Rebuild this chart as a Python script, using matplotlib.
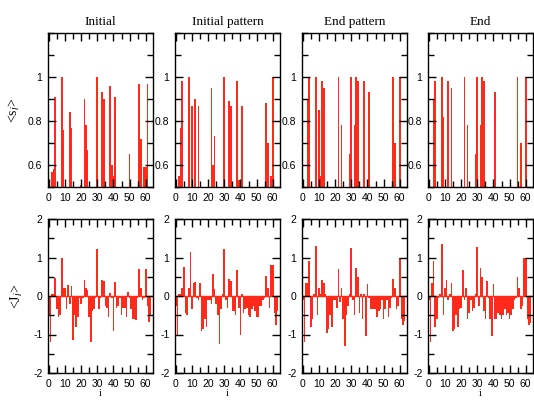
import matplotlib
matplotlib.use("Agg")
import matplotlib.pyplot as plt
from matplotlib.ticker import MultipleLocator, FuncFormatter

titles = ["Initial", "Initial pattern", "End pattern", "End"]

# site index
sites = list(range(64))

# mean activity <s_i> per site (top row); values under 0.5 lie below the visible window
s_initial = [0.3, 0.3, 0.57, 0.58, 0.91, 0.3, 0.3, 0.3, 1.0, 0.76, 0.3, 0.3, 0.3, 0.84, 0.77, 0.3,
             0.3, 0.3, 0.3, 0.3, 0.51, 0.3, 0.90, 0.78, 0.67, 0.3, 0.3, 0.3, 0.3, 0.3, 1.0, 0.3,
             0.3, 0.93, 0.90, 0.3, 0.3, 0.3, 0.96, 0.60, 0.55, 0.91, 0.3, 0.3, 0.3, 0.3, 0.3, 0.3,
             0.3, 0.3, 0.65, 0.3, 0.3, 0.3, 0.3, 0.3, 0.97, 0.72, 0.3, 0.59, 0.59, 0.97, 0.3, 0.3]
s_init_pat = [0.3, 0.3, 0.55, 0.77, 0.98, 0.3, 0.3, 0.3, 1.0, 0.3, 0.87, 0.3, 0.90, 0.3, 0.87, 0.3,
              0.3, 0.3, 0.3, 0.3, 0.3, 0.3, 0.95, 0.60, 0.73, 0.3, 0.3, 0.3, 0.3, 0.3, 1.0, 0.3,
              0.3, 0.89, 0.87, 0.3, 0.3, 0.3, 0.98, 0.53, 0.53, 0.87, 0.3, 0.3, 0.3, 0.3, 0.3, 0.3,
              0.3, 0.3, 0.3, 0.3, 0.3, 0.3, 0.3, 0.3, 0.88, 0.70, 0.3, 0.55, 1.0, 0.3, 0.3, 0.3]
s_end_pat = [0.3, 0.3, 0.3, 0.90, 1.0, 0.3, 0.3, 0.3, 1.0, 0.3, 0.85, 0.55, 0.98, 0.95, 0.3, 0.3,
             0.3, 0.3, 0.3, 0.3, 0.3, 0.3, 1.0, 0.3, 0.78, 0.3, 0.3, 0.3, 0.3, 0.65, 1.0, 0.3,
             0.78, 1.0, 0.98, 0.3, 0.3, 0.3, 0.98, 0.3, 0.3, 0.93, 0.3, 0.3, 0.3, 0.3, 0.3, 0.3,
             0.3, 0.3, 0.3, 0.3, 0.3, 0.3, 0.3, 0.3, 1.0, 0.70, 0.3, 0.3, 1.0, 0.3, 0.3, 0.3]
s_end = [0.3, 0.3, 0.3, 0.90, 0.98, 0.3, 0.3, 0.3, 1.0, 0.82, 0.3, 0.3, 0.98, 0.3, 0.95, 0.3,
         0.3, 0.3, 0.3, 0.3, 0.3, 0.3, 1.0, 0.3, 0.78, 0.3, 0.3, 0.3, 0.3, 0.65, 1.0, 0.3,
         0.78, 1.0, 0.98, 0.3, 0.3, 0.3, 0.3, 0.3, 0.3, 0.93, 0.3, 0.3, 0.3, 0.3, 0.3, 0.3,
         0.3, 0.3, 0.3, 0.3, 0.3, 0.3, 0.3, 1.0, 0.3, 0.70, 0.3, 0.3, 1.0, 0.3, 0.3, 0.3]

# mean coupling <J_i> per site (bottom row)
j_initial = [-0.5, -1.2, 0.05, 0.05, 0.48, -0.35, -0.55, -0.5, 1.0, 0.2, 0.2, -0.35, 0.28, -0.2, 0.27, -1.15,
             -0.5, -0.8, -0.55, -0.05, -0.2, -0.05, 0.42, 0.2, 0.15, -0.55, -1.2, -0.4, -0.35, -0.05, 1.22, -0.35,
             -0.05, 0.42, 0.38, -0.25, -0.3, -0.55, 0.08, -0.05, -0.92, 0.36, -0.3, -0.25, -0.05, -0.5, -0.3, -0.3,
             -0.55, 0.1, -0.05, -0.35, -0.6, -0.6, -0.62, -0.05, 0.7, 0.2, -0.1, -0.05, 0.7, -0.25, -0.68, -0.5]
j_init_pat = [-0.25, -1.05, 0.05, 0.05, 0.2, 0.75, -0.45, -0.5, 0.2, 1.15, -0.35, 0.35, 0.37, -0.05, -0.1, 0.33,
              -0.9, -0.85, -0.6, -0.8, -0.1, -0.1, -0.2, 0.58, 0.18, -0.2, -0.5, -1.25, -0.35, 0.05, 1.22, -0.1,
              -0.3, 0.45, 0.4, -0.4, -0.4, -0.5, 0.68, -0.3, -1.0, 0.05, -0.45, -0.35, -0.3, -0.5, -0.55, -0.35,
              -0.25, -0.4, -0.55, -0.55, -0.25, -0.25, -0.1, -0.05, 0.52, 0.2, -0.3, 0.8, 0.8, -0.45, -0.75, -0.4]
j_end_pat = [-0.1, -1.2, 0.35, 0.35, 0.9, -0.8, -0.6, 0.05, 1.3, -0.5, 0.2, 0.05, 0.42, 0.35, 0.05, -0.95,
             -0.85, -0.5, -0.8, -0.1, -0.1, -0.3, 0.7, -0.15, 0.2, -0.6, -1.3, -0.5, -0.25, 0.05, 1.25, -0.1,
             -0.5, 0.72, 0.5, -0.45, 0.05, -0.6, 0.05, -1.05, 0.3, -0.05, -0.35, -0.35, -0.35, -0.35, -0.55, -0.4,
             -0.35, -0.1, -0.6, -0.35, -0.1, -0.55, -0.3, -0.05, 0.45, 0.2, -0.35, -0.25, 1.0, -0.6, -0.75, -0.65]
j_end = [-0.1, -1.2, 0.35, 0.9, -0.8, -0.6, -0.05, 0.05, 1.35, -0.5, 0.22, 0.42, -0.1, 0.05, 0.35, -0.9,
         -0.85, -0.5, -0.8, -0.35, -0.3, 0.68, -0.1, 0.2, -0.6, -0.45, -0.1, -0.4, -0.3, 0.05, 1.28, -0.25,
         0.72, 0.5, -0.4, -0.6, 0.4, -0.05, -0.6, -1.05, 0.3, -0.6, -0.6, -0.45, -0.5, -0.6, -0.5, -0.35,
         -0.5, -0.45, -0.6, -0.5, -0.35, -0.1, -0.05, 0.5, 0.2, -0.35, -0.25, 1.0, 1.0, -0.6, -0.75, -0.7]

s_series = [s_initial, s_init_pat, s_end_pat, s_end]
j_series = [j_initial, j_init_pat, j_end_pat, j_end]

x_ticks = [0, 10, 20, 30, 40, 50, 60]
s_ticks = [0.6, 0.8, 1.0]
j_ticks = [-2, -1, 0, 1, 2]

BAR = "#ff2a1a"
W, H = 534, 401
fig = plt.figure(figsize=(W / 100, H / 100), dpi=100)

lefts = [48, 175, 302, 428]
pw = 105
top_row = (33, 187)
bot_row = (219, 373)

TICK_FAMILY = "Liberation Sans"
TICK_SIZE = 7.5


def fmt(v, pos):
    return "%g" % v


def style(ax):
    ax.set_xlim(-0.5, 64.5)
    ax.xaxis.set_minor_locator(MultipleLocator(5))
    ax.tick_params(which="both", direction="in", top=True, right=True,
                   width=1.0, color="black")
    ax.tick_params(which="major", length=5.5, pad=4)
    ax.tick_params(which="minor", length=4)
    for lab in ax.get_xticklabels() + ax.get_yticklabels():
        lab.set_fontfamily(TICK_FAMILY)
        lab.set_fontsize(TICK_SIZE)
    for sp in ax.spines.values():
        sp.set_linewidth(1.0)


for k in range(4):
    x0 = lefts[k] / W
    # upper panel: <s_i>
    ax = fig.add_axes([x0, 1 - top_row[1] / H, pw / W, (top_row[1] - top_row[0]) / H])
    ax.bar(sites, s_series[k], width=1.0, color=BAR, linewidth=0)
    ax.set_ylim(0.5, 1.2)
    ax.set_yticks(s_ticks)
    ax.yaxis.set_minor_locator(MultipleLocator(0.1))
    ax.yaxis.set_major_formatter(FuncFormatter(fmt))
    ax.set_xticks(x_ticks)
    style(ax)
    ax.set_title(titles[k], family="Liberation Serif", fontsize=9.5, pad=6)
    if k == 0:
        ax.set_ylabel(r"<s$_i$>", family="Liberation Serif", fontsize=10, labelpad=4)

    # lower panel: <J_i>
    ax = fig.add_axes([x0, 1 - bot_row[1] / H, pw / W, (bot_row[1] - bot_row[0]) / H])
    ax.bar(sites, j_series[k], width=1.0, color=BAR, linewidth=0)
    ax.axhline(0, color=BAR, linewidth=1.0, zorder=1)
    ax.set_ylim(-2, 2)
    ax.set_yticks(j_ticks)
    ax.yaxis.set_minor_locator(MultipleLocator(0.5))
    ax.yaxis.set_major_formatter(FuncFormatter(fmt))
    ax.set_xticks(x_ticks)
    style(ax)
    if k == 0:
        ax.set_ylabel(r"<J$_i$>", family="Liberation Serif", fontsize=10, labelpad=6)
    if k != 2:
        ax.set_xlabel("i", family="Liberation Serif", fontsize=7, labelpad=0)

fig.savefig("out.png", dpi=100)
